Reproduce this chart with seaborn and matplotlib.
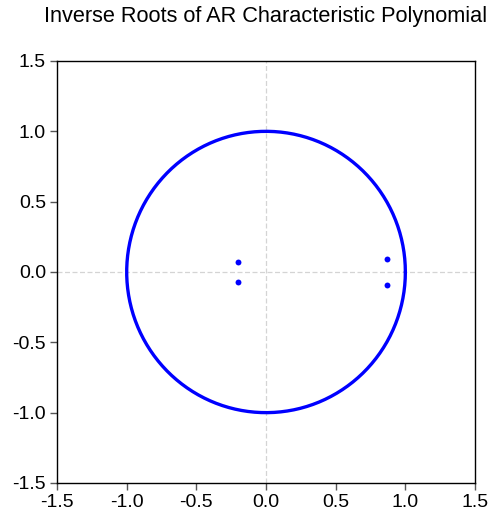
import numpy as np
import seaborn as sns
from matplotlib import pyplot as plt

# inverse roots
root_re = [-0.202, -0.202, 0.870, 0.870]
root_im = [0.068, -0.068, 0.091, -0.091]
ticks = [-1.5, -1.0, -0.5, 0.0, 0.5, 1.0, 1.5]
title = "Inverse Roots of AR Characteristic Polynomial"

sns.set_style("white")
plt.rcParams['font.family'] = ['Liberation Sans', 'DejaVu Sans']

fig = plt.figure(figsize=(4.92, 5.2), dpi=100)
ax = fig.add_axes([0.1159, 0.0712, 0.8496, 0.8115])

# unit circle
theta = np.linspace(0, 2 * np.pi, 400)
sns.lineplot(x=np.cos(theta), y=np.sin(theta), sort=False, estimator=None,
             color="#0000ff", linewidth=2.4, ax=ax, zorder=3)
sns.scatterplot(x=root_re, y=root_im, color="#0000ff", s=18, linewidth=0, ax=ax, zorder=4)

ax.axhline(0, color="#d4d4d4", linestyle=(0, (4, 2)), linewidth=0.9, zorder=1)
ax.axvline(0, color="#d4d4d4", linestyle=(0, (4, 2)), linewidth=0.9, zorder=1)

ax.set_xlim(-1.5, 1.5)
ax.set_ylim(-1.5, 1.5)
ax.set_xticks(ticks)
ax.set_yticks(ticks)
ax.set_xticklabels([f"{t:.1f}" for t in ticks])
ax.set_yticklabels([f"{t:.1f}" for t in ticks])
ax.tick_params(axis='both', direction='out', length=5, width=1, color="#555555",
               labelcolor="black", labelsize=14, pad=3,
               bottom=True, left=True, top=False, right=False)
for s in ax.spines.values():
    s.set_color("black")
    s.set_linewidth(1)

ax.set_title(title, fontsize=15.7, pad=28, color="black")

plt.savefig("out.png", dpi=100)
